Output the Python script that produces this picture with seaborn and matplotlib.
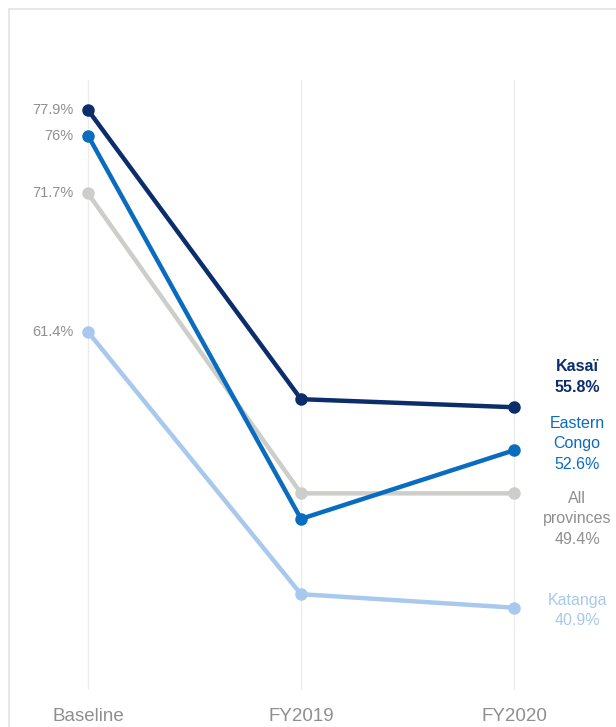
import matplotlib
matplotlib.use("Agg")
import matplotlib.pyplot as plt
from matplotlib.lines import Line2D
import seaborn as sns
import pandas as pd

periods = ["Baseline", "FY2019", "FY2020"]
series_names = ["Katanga", "All provinces", "Eastern Congo", "Kasaï"]
katanga = [61.4, 41.9, 40.9]
all_prov = [71.7, 49.4, 49.4]
eastern = [76.0, 47.5, 52.6]
kasai = [77.9, 56.4, 55.8]
baseline_labels = ["61.4%", "71.7%", "76%", "77.9%"]
end_labels = ["Katanga\n40.9%", "All\nprovinces\n49.4%", "Eastern\nCongo\n52.6%", "Kasaï\n55.8%"]
colors = ["#a9c8ee", "#cdcdca", "#0a6cbf", "#0b2d6b"]
label_colors = ["#a9c8ee", "#8f8f8f", "#0a6cbf", "#0b2d6b"]

sns.set_theme(style="white")
plt.rcParams["font.family"] = ["Liberation Sans", "DejaVu Sans"]

values = [katanga, all_prov, eastern, kasai]
rows = []
for name, vals in zip(series_names, values):
    for i, (p, v) in enumerate(zip(periods, vals)):
        rows.append({"series": name, "pos": i, "period": p, "value": v})
df = pd.DataFrame(rows)

W, H = 616, 727
fig = plt.figure(figsize=(W / 100, H / 100), dpi=100)
ax = fig.add_axes([9 / W, 1 - 690 / H, 1 - 9 / W, (690 - 80) / H])

sns.lineplot(data=df, x="pos", y="value", hue="series", hue_order=series_names,
             palette=dict(zip(series_names, colors)), marker="o", markersize=9,
             markeredgewidth=0, linewidth=3.2, legend=False, ax=ax, sort=False)

ax.set_xlim(-79 / 213, 2 + 102 / 213)
ax.set_ylim(77.9 - 580 / 13.45, 77.9 + 30 / 13.45)
for i in range(len(periods)):
    ax.axvline(i, color="#ececec", lw=1, zorder=0)
for s in ax.spines.values():
    s.set_visible(False)
ax.set_yticks([])
ax.set_xticks(range(len(periods)))
ax.set_xticklabels(periods, fontsize=13.5, color="#8f8f8f")
ax.tick_params(axis="x", length=0, pad=13)
ax.set_xlabel("")
ax.set_ylabel("")

for vals, lab in zip(values, baseline_labels):
    ax.text(-0.07, vals[0], lab, ha="right", va="center", fontsize=10.5, color="#8f8f8f")

end_y = [40.7, 47.5, 53.07, 58.05]
for name, vals, lab, c, yy in zip(series_names, values, end_labels, label_colors, end_y):
    ax.text(2.296, yy, lab, ha="center", va="center", fontsize=11.5, color=c,
            fontweight="bold" if name == "Kasaï" else "normal", linespacing=1.45)

fig.add_artist(Line2D([9 / W, 9 / W], [0, 1 - 9 / H], color="#e3e3e3", lw=1.2))
fig.add_artist(Line2D([9 / W, 1], [1 - 9 / H, 1 - 9 / H], color="#e3e3e3", lw=1.2))

fig.savefig("out.png", dpi=100)
